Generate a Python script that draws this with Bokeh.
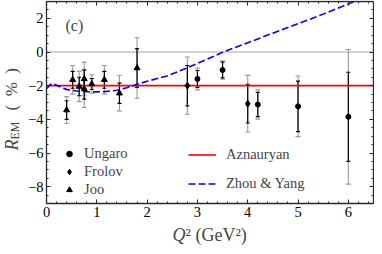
import math
from bokeh.plotting import figure
from bokeh.models import (Range1d, LinearAxis, FixedTicker, Whisker, ColumnDataSource,
                          TeeHead, Legend, LegendItem, Label, CustomJSTickFormatter)
from bokeh.embed import file_html
from bokeh.resources import INLINE

# ---------------- data ----------------
joo_q2 = [0.40, 0.52, 0.65, 0.75, 0.75, 0.90, 1.15, 1.45, 1.80]
joo_rem = [-3.45, -1.65, -2.05, -1.60, -2.20, -1.90, -1.65, -2.45, -0.95]
joo_stat = [0.55, 0.50, 0.55, 0.55, 0.60, 0.33, 0.50, 0.60, 1.15]
joo_tot = [0.80, 0.85, 0.90, 1.00, 1.10, 0.55, 0.85, 1.05, 1.80]

frolov_q2 = [2.8, 4.0]
frolov_rem = [-2.00, -3.07]
frolov_stat = [1.20, 1.15]
frolov_tot = [1.70, 1.68]

ungaro_q2 = [3.0, 3.5, 4.2, 5.0, 6.0]
ungaro_rem = [-1.60, -1.07, -3.12, -3.23, -3.85]
ungaro_stat = [0.50, 0.47, 0.72, 1.50, 2.65]
ungaro_tot = [0.65, 0.55, 0.87, 1.80, 4.00]

azn_q2 = [0.0, 6.5]
azn_rem = [-2.0, -2.0]

zero_q2 = [0.0, 6.5]
zero_rem = [0.0, 0.0]

zy_q2 = [0.0, 0.1, 0.2, 0.3, 0.4, 0.6, 0.8, 1.0, 1.2, 1.4, 1.6, 1.8, 2.0, 2.4,
         2.8, 3.2, 3.5, 4.0, 4.5, 5.0, 5.5, 6.0, 6.12]
zy_rem = [-2.18, -1.87, -1.97, -2.12, -2.22, -2.32, -2.36, -2.37, -2.34, -2.27, -2.12,
          -1.92, -1.74, -1.42, -0.94, -0.42, -0.02, 0.55, 1.12, 1.68, 2.25, 2.85, 3.0]

x_ticks = [0, 1, 2, 3, 4, 5, 6]
y_ticks = [-8, -6, -4, -2, 0, 2]
x_lim = (0.0, 6.5)
y_lim = (-9.0, 3.0)

FONT = "Liberation Serif"
AX = "#2a2a2a"
W, H = 374, 246

# pixel placement of the plot box inside the canvas
BOX_L, BOX_R, BOX_T, BOX_B = 46, 373, 1, 203
KX = (BOX_R - BOX_L) / (x_lim[1] - x_lim[0])
KY = (BOX_B - BOX_T) / (y_lim[1] - y_lim[0])


def xd(px):
    return x_lim[0] + (px - BOX_L) / KX


def yd(py):
    return y_lim[1] - (py - BOX_T) / KY


p = figure(width=W, height=H, output_backend="svg", toolbar_location=None,
           x_range=Range1d(xd(0), xd(W)), y_range=Range1d(yd(H), yd(0)),
           min_border_left=0, min_border_right=0, min_border_top=0, min_border_bottom=0,
           x_axis_location=None, y_axis_location=None)
for g in p.grid:
    g.visible = False
p.outline_line_color = None
p.background_fill_color = "white"
p.border_fill_color = "white"

x_minor = [round(0.2 * i, 2) for i in range(0, 33)]
y_minor = [round(-9 + 0.5 * i, 2) for i in range(0, 25)]

fmt = CustomJSTickFormatter(code="return tick < 0 ? '\\u2212' + Math.abs(tick) : tick.toString();")


def make_axis(ticks, minor, labels, loc, bounds):
    ax = LinearAxis(ticker=FixedTicker(ticks=ticks, minor_ticks=minor), formatter=fmt,
                    fixed_location=loc, bounds=bounds)
    ax.axis_line_color = AX
    ax.axis_line_width = 1.3
    ax.major_tick_line_color = AX
    ax.minor_tick_line_color = AX
    ax.major_tick_line_width = 1.1
    ax.minor_tick_line_width = 1.0
    ax.major_tick_in = 4
    ax.major_tick_out = 0
    ax.minor_tick_in = 2
    ax.minor_tick_out = 0
    ax.major_label_text_font = FONT
    ax.major_label_text_font_size = "14.5px"
    if labels:
        ax.major_label_text_color = "black"
        ax.major_label_standoff = 3
    else:
        ax.major_label_text_color = None
        ax.major_label_standoff = 0
    return ax


p.add_layout(make_axis(x_ticks, x_minor, True, y_lim[0], x_lim), "below")
p.add_layout(make_axis(x_ticks, x_minor, False, y_lim[1], x_lim), "above")
p.add_layout(make_axis(y_ticks, y_minor, True, x_lim[0], y_lim), "left")
p.add_layout(make_axis(y_ticks, y_minor, False, x_lim[1], y_lim), "right")

# zero line
p.line(zero_q2, zero_rem, line_color="#c4c4c4", line_width=1.6, level="underlay")


def add_errors(q, r, stat, tot):
    src = ColumnDataSource(dict(
        x=q,
        tlo=[a - b for a, b in zip(r, tot)], thi=[a + b for a, b in zip(r, tot)],
        slo=[a - b for a, b in zip(r, stat)], shi=[a + b for a, b in zip(r, stat)],
    ))
    wt = Whisker(source=src, base="x", lower="tlo", upper="thi", dimension="height",
                 line_color="#9a9a9a", line_width=1.1, level="underlay",
                 upper_head=TeeHead(size=5, line_color="#9a9a9a", line_width=1.1),
                 lower_head=TeeHead(size=5, line_color="#9a9a9a", line_width=1.1))
    ws = Whisker(source=src, base="x", lower="slo", upper="shi", dimension="height",
                 line_color="black", line_width=1.2, level="underlay",
                 upper_head=TeeHead(size=4, line_color="black", line_width=1.1),
                 lower_head=TeeHead(size=4, line_color="black", line_width=1.1))
    p.add_layout(wt)
    p.add_layout(ws)


add_errors(joo_q2, joo_rem, joo_stat, joo_tot)
add_errors(frolov_q2, frolov_rem, frolov_stat, frolov_tot)
add_errors(ungaro_q2, ungaro_rem, ungaro_stat, ungaro_tot)

r_azn = p.line(azn_q2, azn_rem, line_color="#ff0000", line_width=1.6)
r_zy = p.line(zy_q2, zy_rem, line_color="#0000ff", line_width=1.6, line_dash="7 3")

r_ung = p.scatter(ungaro_q2, ungaro_rem, marker="circle", size=5, color="black")
r_fro = p.scatter(frolov_q2, frolov_rem, marker="diamond", size=7, color="black")
r_joo = p.scatter(joo_q2, joo_rem, marker="triangle", size=6, color="black")

leg1 = Legend(items=[LegendItem(label="Ungaro", renderers=[r_ung]),
                     LegendItem(label="Frolov", renderers=[r_fro]),
                     LegendItem(label="Joo", renderers=[r_joo])],
              location=(62, 48), orientation="vertical",
              label_text_font=FONT, label_text_font_size="14.5px",
              glyph_width=14, glyph_height=17, label_height=17, spacing=1,
              padding=0, margin=0, border_line_color=None, background_fill_alpha=0,
              label_standoff=8)
leg2 = Legend(items=[LegendItem(label="Aznauryan", renderers=[r_azn]),
                     LegendItem(label="Zhou & Yang", renderers=[r_zy])],
              location=(188, 54), orientation="vertical",
              label_text_font=FONT, label_text_font_size="14.5px",
              glyph_width=28, glyph_height=17, label_height=17, spacing=12,
              padding=0, margin=0, border_line_color=None, background_fill_alpha=0,
              label_standoff=10)
p.add_layout(leg1)
p.add_layout(leg2)

# panel tag
p.add_layout(Label(x=xd(65), y=yd(25), text="(c)", text_font=FONT, text_font_size="16px",
                   text_baseline="middle", text_align="left"))

# x-axis label: Q^2 (GeV^2)
p.add_layout(Label(x=xd(185), y=yd(234), text="Q", text_font=FONT,
                   text_font_style="italic", text_font_size="18px",
                   text_align="right", text_baseline="alphabetic"))
p.add_layout(Label(x=xd(185), y=yd(234), text="\u00b2 (GeV\u00b2)", text_font=FONT,
                   text_font_size="18px", text_align="left", text_baseline="alphabetic"))

# y-axis label: R_EM (%)
p.add_layout(Label(x=xd(11), y=yd(150), text="R", text_font=FONT,
                   text_font_style="italic", text_font_size="18px", angle=math.pi / 2,
                   text_align="left", text_baseline="alphabetic"))
p.add_layout(Label(x=xd(14), y=yd(139), text="EM", text_font=FONT,
                   text_font_size="12px", angle=math.pi / 2,
                   text_align="left", text_baseline="alphabetic"))
p.add_layout(Label(x=xd(11), y=yd(110), text="(\u2002%\u2002)", text_font=FONT,
                   text_font_size="17px", angle=math.pi / 2,
                   text_align="left", text_baseline="alphabetic"))

open("out.html", "w").write(file_html(p, INLINE))
